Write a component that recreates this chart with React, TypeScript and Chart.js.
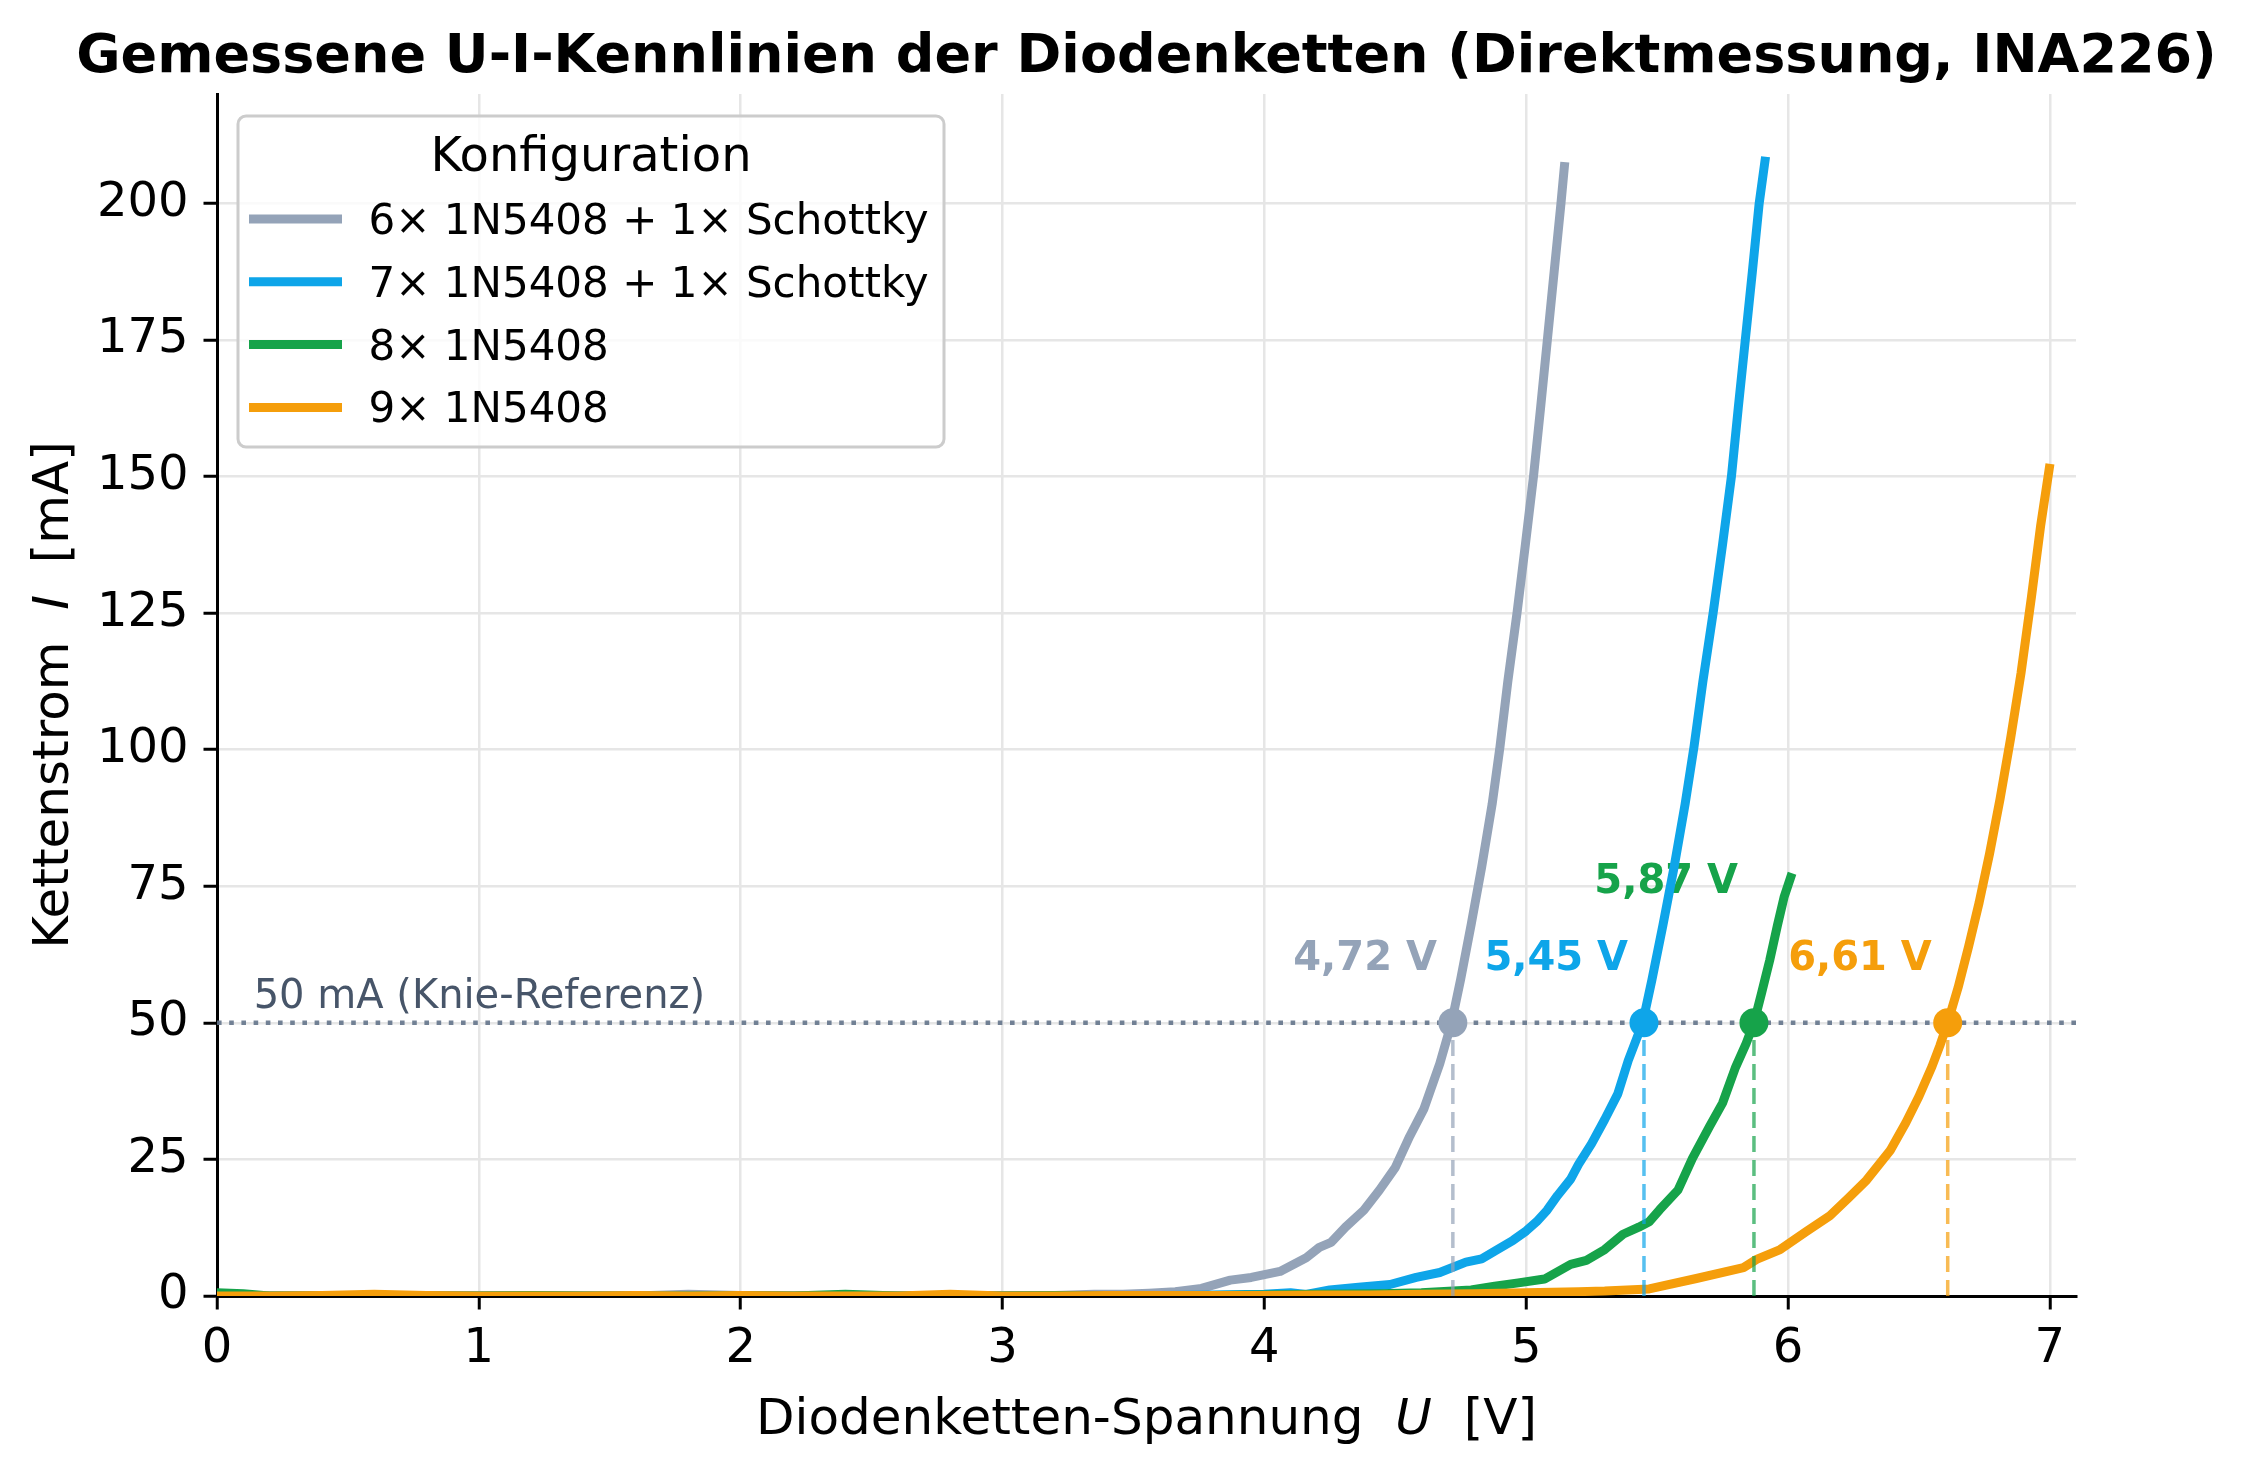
import { useEffect, useRef } from "react"
import { Chart, registerables } from "chart.js"

Chart.register(...registerables)

const FONT = "'DejaVu Sans', sans-serif"

const TITLE = "Gemessene U-I-Kennlinien der Diodenketten (Direktmessung, INA226)"

// Messreihen: Spannung U [V] / Strom I [mA]
const u6 = [0, 0.2, 0.4, 0.6, 0.8, 1.0, 1.2, 1.4, 1.6, 1.8, 2.0, 2.2, 2.4, 2.6, 2.8, 3.0, 3.2, 3.35, 3.46, 3.56, 3.66, 3.76, 3.87, 3.95, 4.06, 4.16, 4.21, 4.255, 4.31, 4.38, 4.44, 4.5, 4.555, 4.61, 4.67, 4.715, 4.75, 4.79, 4.83, 4.87, 4.9, 4.93, 4.965, 4.997, 5.028, 5.055, 5.081, 5.107, 5.133, 5.146]
const i6 = [0, 0, 0, 0, 0.1, 0, 0, 0, 0, 0.3, 0.1, 0, 0, 0, 0, 0.1, 0.1, 0.3, 0.3, 0.5, 0.8, 1.4, 2.9, 3.4, 4.5, 7.0, 8.9, 9.8, 12.6, 15.7, 19.4, 23.5, 29.2, 34.3, 42.5, 50.0, 58.0, 68.0, 78.5, 90.0, 100.5, 112.5, 125.0, 137.5, 150.0, 162.5, 175.0, 187.5, 200.0, 206.7]

const u7 = [0, 0.2, 0.4, 0.6, 0.8, 1.0, 1.2, 1.4, 1.6, 1.8, 2.0, 2.2, 2.4, 2.6, 2.8, 3.0, 3.2, 3.4, 3.6, 3.8, 4.0, 4.1, 4.16, 4.25, 4.36, 4.48, 4.58, 4.67, 4.77, 4.83, 4.88, 4.95, 5.0, 5.04, 5.08, 5.12, 5.17, 5.2, 5.25, 5.3, 5.35, 5.39, 5.445, 5.48, 5.522, 5.565, 5.607, 5.641, 5.675, 5.714, 5.75, 5.784, 5.81, 5.837, 5.864, 5.89, 5.912]
const i7 = [0, 0, 0.1, 0, 0, 0, 0.1, 0, 0, 0, 0.1, 0, 0, 0, 0, 0, 0, 0, 0.1, 0.2, 0.3, 0.6, 0.3, 1.1, 1.6, 2.1, 3.4, 4.3, 6.2, 6.8, 8.2, 10.2, 11.9, 13.6, 15.7, 18.4, 21.4, 24.1, 27.9, 32.3, 37.0, 43.1, 50.0, 57.8, 67.8, 78.5, 90.0, 100.5, 112.5, 125.0, 137.5, 150.0, 162.5, 175.0, 187.5, 200.0, 207.7]

const u8 = [0, 0.1, 0.2, 0.4, 0.6, 0.8, 1.0, 1.2, 1.4, 1.6, 1.8, 2.0, 2.2, 2.4, 2.6, 2.8, 3.0, 3.2, 3.4, 3.6, 3.8, 4.0, 4.2, 4.44, 4.6, 4.79, 4.88, 4.97, 5.07, 5.17, 5.23, 5.3, 5.37, 5.43, 5.47, 5.51, 5.58, 5.635, 5.7, 5.75, 5.8, 5.84, 5.87, 5.9, 5.93, 5.96, 5.985, 6.01]
const i8 = [0.6, 0.4, 0, 0, 0, 0, 0, 0.1, 0, 0, 0, 0.1, 0, 0.3, 0, 0, 0, 0.1, 0, 0.1, 0.1, 0.2, 0.3, 0.4, 0.6, 1.1, 1.8, 2.4, 3.1, 5.8, 6.5, 8.5, 11.3, 12.6, 13.6, 15.8, 19.4, 25.2, 31.0, 35.3, 41.9, 46.2, 50.0, 55.6, 61.4, 67.9, 73.0, 76.6]

const u9 = [0, 0.2, 0.4, 0.6, 0.8, 1.0, 1.2, 1.4, 1.6, 1.8, 2.0, 2.2, 2.4, 2.6, 2.8, 3.0, 3.2, 3.4, 3.6, 3.8, 4.0, 4.2, 4.4, 4.6, 4.8, 5.0, 5.2, 5.3, 5.47, 5.65, 5.83, 5.88, 5.97, 6.07, 6.16, 6.23, 6.3, 6.39, 6.45, 6.5, 6.55, 6.58, 6.61, 6.65, 6.69, 6.73, 6.77, 6.81, 6.85, 6.89, 6.93, 6.965, 6.998]
const i9 = [0, 0, 0.1, 0.3, 0.1, 0, 0, 0, 0.1, 0, 0.1, 0, 0, 0, 0.3, 0, 0, 0.1, 0.1, 0.1, 0.1, 0.2, 0.2, 0.3, 0.4, 0.6, 0.8, 0.9, 1.3, 3.2, 5.2, 6.7, 8.5, 11.8, 14.7, 17.9, 21.2, 26.6, 31.7, 36.5, 42.0, 45.8, 50.0, 56.5, 64.0, 72.0, 81.0, 91.0, 102.0, 114.0, 128.0, 141.0, 151.5]

const seriesU = [u6, u7, u8, u9]
const seriesI = [i6, i7, i8, i9]
const seriesLabels = ["6× 1N5408 + 1× Schottky", "7× 1N5408 + 1× Schottky", "8× 1N5408", "9× 1N5408"]
const seriesColors = ["#94a3b8", "#0ea5e9", "#16a34a", "#f59e0b"]

// Knie-Spannungen bei 50 mA
const kneeU = [4.72, 5.45, 5.87, 6.61]
const KNEE_I = 50

const xTicks = [0, 1, 2, 3, 4, 5, 6, 7]
const yTicks = [0, 25, 50, 75, 100, 125, 150, 175, 200]
const X_MAX = 7.1
const Y_MAX = 220

// Versatz der Knie-Labels über dem Marker (px)
const kneeLabelDy = [-53, -53, -130, -53]

function withAlpha(hex: string, a: number) {
  const n = parseInt(hex.slice(1), 16)
  return `rgba(${(n >> 16) & 255}, ${(n >> 8) & 255}, ${n & 255}, ${a})`
}

type Part = { text: string; italic?: boolean }

function drawRich(ctx: CanvasRenderingContext2D, parts: Part[], size: number, cx: number, baseline: number) {
  const fonts = parts.map((p) => `${p.italic ? "italic " : ""}${size}px ${FONT}`)
  const widths = parts.map((p, k) => {
    ctx.font = fonts[k]
    return ctx.measureText(p.text).width
  })
  let x = cx - widths.reduce((a, b) => a + b, 0) / 2
  ctx.textAlign = "left"
  ctx.textBaseline = "alphabetic"
  parts.forEach((p, k) => {
    ctx.font = fonts[k]
    ctx.fillText(p.text, x, baseline)
    x += widths[k]
  })
}

const overlayPlugin = {
  id: "overlay",
  beforeDatasetsDraw(chart: Chart) {
    const { ctx, scales } = chart
    const xs = scales.x
    const ys = scales.y
    ctx.save()
    // Referenz-Beschriftung
    ctx.font = `40px ${FONT}`
    ctx.fillStyle = "#475569"
    ctx.textAlign = "left"
    ctx.textBaseline = "alphabetic"
    ctx.fillText(`${KNEE_I} mA (Knie-Referenz)`, xs.getPixelForValue(0.14), ys.getPixelForValue(KNEE_I) - 15)
    // Knie-Labels
    ctx.font = `bold 40px ${FONT}`
    ctx.textAlign = "right"
    kneeU.forEach((u, k) => {
      ctx.fillStyle = seriesColors[k]
      ctx.fillText(
        `${u.toFixed(2).replace(".", ",")} V`,
        xs.getPixelForValue(u) - 16,
        ys.getPixelForValue(KNEE_I) + kneeLabelDy[k]
      )
    })
    ctx.restore()
  },
  afterDraw(chart: Chart) {
    const { ctx, chartArea } = chart
    const cx = (chartArea.left + chartArea.right) / 2
    ctx.save()
    ctx.fillStyle = "#000"

    // Titel
    ctx.font = `bold 54px ${FONT}`
    ctx.textAlign = "center"
    ctx.textBaseline = "alphabetic"
    ctx.fillText(TITLE, cx, 72)

    // Achsentitel
    drawRich(ctx, [{ text: "Diodenketten-Spannung  " }, { text: "U", italic: true }, { text: "  [V]" }], 50, cx, 1434)
    ctx.save()
    ctx.translate(68, (chartArea.top + chartArea.bottom) / 2)
    ctx.rotate(-Math.PI / 2)
    drawRich(ctx, [{ text: "Kettenstrom  " }, { text: "I", italic: true }, { text: "  [mA]" }], 50, 0, 0)
    ctx.restore()

    // Legende
    const lx = chartArea.left + 21
    const ly = chartArea.top + 22
    ctx.beginPath()
    ctx.roundRect(lx, ly, 706, 331, 8)
    ctx.fillStyle = "rgba(255, 255, 255, 0.8)"
    ctx.fill()
    ctx.lineWidth = 3
    ctx.strokeStyle = "#cccccc"
    ctx.stroke()

    ctx.fillStyle = "#000"
    ctx.font = `48px ${FONT}`
    ctx.textAlign = "center"
    ctx.fillText("Konfiguration", lx + 353, ly + 55)

    seriesLabels.forEach((label, k) => {
      const cy = ly + 103 + k * 62.8
      ctx.beginPath()
      ctx.moveTo(lx + 15.5, cy)
      ctx.lineTo(lx + 99.5, cy)
      ctx.lineWidth = 9
      ctx.lineCap = "square"
      ctx.strokeStyle = seriesColors[k]
      ctx.stroke()
      ctx.fillStyle = "#000"
      ctx.font = `42px ${FONT}`
      ctx.textAlign = "left"
      ctx.fillText(label, lx + 130.5, cy + 15)
    })
    ctx.restore()
  },
}

export default function App() {
  const chartRef = useRef<HTMLCanvasElement>(null)
  const chartInstance = useRef<Chart | null>(null)

  useEffect(() => {
    if (!chartRef.current) return
    if (chartInstance.current) chartInstance.current.destroy()

    const curves = seriesLabels.map((label, k) => ({
      label,
      data: seriesU[k].map((u, j) => ({ x: u, y: seriesI[k][j] })),
      borderColor: seriesColors[k],
      backgroundColor: seriesColors[k],
      borderWidth: 9,
      borderCapStyle: "square" as const,
      borderJoinStyle: "round" as const,
      pointRadius: 0,
      order: 13 - k,
    }))

    const dropLines = kneeU.map((u, k) => ({
      label: `drop-${k}`,
      data: [
        { x: u, y: 0 },
        { x: u, y: KNEE_I },
      ],
      borderColor: withAlpha(seriesColors[k], 0.7),
      borderWidth: 3.5,
      borderDash: [16, 8],
      borderCapStyle: "butt" as const,
      pointRadius: 0,
      order: 1,
    }))

    const refLine = {
      label: "ref",
      data: [
        { x: 0, y: KNEE_I },
        { x: X_MAX, y: KNEE_I },
      ],
      borderColor: "rgba(100, 116, 139, 0.9)",
      borderWidth: 4.6,
      borderDash: [4.6, 7.6],
      borderCapStyle: "butt" as const,
      pointRadius: 0,
      order: 2,
    }

    const knees = {
      label: "knees",
      data: kneeU.map((u) => ({ x: u, y: KNEE_I })),
      showLine: false,
      pointRadius: 14.5,
      pointBackgroundColor: seriesColors,
      pointBorderWidth: 0,
      order: 0,
    }

    chartInstance.current = new Chart(chartRef.current, {
      type: "line",
      data: { datasets: [...curves, refLine, ...dropLines, knees] as any },
      options: {
        animation: false,
        responsive: true,
        maintainAspectRatio: false,
        events: [],
        layout: { padding: { left: 0, top: 94, right: 172, bottom: 0 } },
        elements: { line: { tension: 0 } },
        plugins: {
          legend: { display: false },
          tooltip: { enabled: false },
          title: { display: false },
        },
        scales: {
          x: {
            type: "linear",
            min: 0,
            max: X_MAX,
            afterBuildTicks: (s: any) => {
              s.ticks = xTicks.map((v) => ({ value: v }))
            },
            afterFit: (s: any) => {
              s.height = 176
            },
            ticks: {
              color: "#000",
              font: { family: FONT, size: 48, lineHeight: 1.2 },
              padding: 11,
              maxRotation: 0,
              callback: (v: any) => String(v),
            },
            grid: { color: "#e6e6e6", lineWidth: 2.5, tickColor: "#000", tickLength: 13.5, tickWidth: 3 },
            border: { color: "#000", width: 3 },
          },
          y: {
            type: "linear",
            min: 0,
            max: Y_MAX,
            afterBuildTicks: (s: any) => {
              s.ticks = yTicks.map((v) => ({ value: v }))
            },
            afterFit: (s: any) => {
              s.width = 217
            },
            ticks: {
              color: "#000",
              font: { family: FONT, size: 48, lineHeight: 1.2 },
              padding: 15,
              callback: (v: any) => String(v),
            },
            grid: { color: "#e6e6e6", lineWidth: 2.5, tickColor: "#000", tickLength: 13.5, tickWidth: 3 },
            border: { color: "#000", width: 3 },
          },
        },
      },
      plugins: [overlayPlugin],
    })

    return () => {
      if (chartInstance.current) {
        chartInstance.current.destroy()
        chartInstance.current = null
      }
    }
  }, [])

  return (
    <div style={{ position: "fixed", left: 0, top: 0, width: 2248, height: 1472, background: "#fff" }}>
      <canvas ref={chartRef} />
    </div>
  )
}
